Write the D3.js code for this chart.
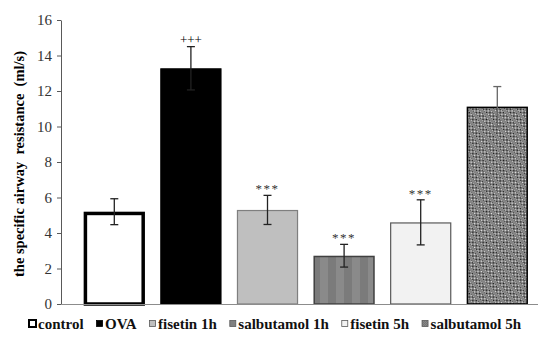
<!DOCTYPE html>
<html>
<head>
<meta charset="utf-8">
<script src="https://cdn.jsdelivr.net/npm/d3@7"></script>
<style>
  body { margin: 0; background: #fff; }
  svg { display: block; }
  svg text { font-family: "Liberation Serif", "Times New Roman", Times, Tinos, "DejaVu Serif", "Noto Serif", FreeSerif, serif !important; }
</style>
</head>
<body>
<div id="chart"></div>
<script>
const groups = ["control", "OVA", "fisetin 1h", "salbutamol 1h", "fisetin 5h", "salbutamol 5h"];
const means = [5.2, 13.28, 5.3, 2.72, 4.6, 11.12];
const errors = [0.73, 1.22, 0.82, 0.64, 1.27, 1.13];
const marks = ["", "+++", "***", "***", "***", ""];
const yTicks = [0, 2, 4, 6, 8, 10, 12, 14, 16];

const width = 538, height = 341;
const margin = { top: 20, left: 61, bottom: 37 };

const svg = d3.select("#chart").append("svg")
  .attr("width", width).attr("height", height);

const defs = svg.append("defs");

// vertical stripes for salbutamol 1h
const stripes = defs.append("pattern")
  .attr("id", "stripes").attr("patternUnits", "userSpaceOnUse")
  .attr("width", 16).attr("height", 10);
stripes.append("rect").attr("width", 16).attr("height", 10).attr("fill", "#8a8a8a");
stripes.append("rect").attr("x", 8).attr("width", 8).attr("height", 10).attr("fill", "#7b7b7b");

// black/white checker
const checker = defs.append("pattern")
  .attr("id", "checker").attr("patternUnits", "userSpaceOnUse")
  .attr("width", 2).attr("height", 2);
checker.append("rect").attr("width", 2).attr("height", 2).attr("fill", "#e8e8e8");
checker.append("rect").attr("width", 1).attr("height", 1).attr("fill", "#151515");
checker.append("rect").attr("x", 1).attr("y", 1).attr("width", 1).attr("height", 1).attr("fill", "#151515");

// diagonal grey bands over the checker for salbutamol 5h
const diag = defs.append("pattern")
  .attr("id", "diag").attr("patternUnits", "userSpaceOnUse")
  .attr("width", 8).attr("height", 8)
  .attr("patternTransform", "rotate(45)");
diag.append("rect").attr("width", 8).attr("height", 8).attr("fill", "url(#checker)");
diag.append("rect").attr("width", 8).attr("height", 3).attr("fill", "#858585");

const styles = [
  { fill: "#fff", stroke: "#000", sw: 3.5 },
  { fill: "#000", stroke: "#000", sw: 1 },
  { fill: "#bfbfbf", stroke: "#7f7f7f", sw: 1.2 },
  { fill: "url(#stripes)", stroke: "#404040", sw: 1.5 },
  { fill: "#f2f2f2", stroke: "#595959", sw: 1.2 },
  { fill: "url(#diag)", stroke: "#000", sw: 1.5 }
];

const x = d3.scaleBand()
  .domain(groups)
  .range([76, 76 + 6 * 76.6])
  .paddingInner(0.2)
  .paddingOuter(0.1);

const y = d3.scaleLinear()
  .domain([0, 16])
  .range([304, 20]);

// y axis
const yAxis = svg.append("g")
  .attr("transform", `translate(${margin.left},0)`)
  .call(d3.axisLeft(y).tickValues(yTicks).tickSize(4).tickSizeOuter(0).tickPadding(5));
yAxis.select(".domain").attr("stroke", "#595959");
yAxis.selectAll(".tick line").attr("stroke", "#595959");
yAxis.selectAll("text")
  .attr("font-size", 15)
  .attr("fill", "#333");

// bars
svg.append("g").selectAll("rect")
  .data(groups)
  .join("rect")
  .attr("x", (d, i) => x(d) + styles[i].sw / 2)
  .attr("y", (d, i) => y(means[i]) + styles[i].sw / 2)
  .attr("width", (d, i) => x.bandwidth() - styles[i].sw)
  .attr("height", (d, i) => y(0) - y(means[i]) - styles[i].sw / 2)
  .attr("fill", (d, i) => styles[i].fill)
  .attr("stroke", (d, i) => styles[i].stroke)
  .attr("stroke-width", (d, i) => styles[i].sw);

// x axis baseline
svg.append("line")
  .attr("x1", margin.left).attr("x2", width)
  .attr("y1", y(0) + 0.5).attr("y2", y(0) + 0.5)
  .attr("stroke", "#8c8c8c").attr("stroke-width", 1);

// error bars
const eb = svg.append("g").selectAll("g")
  .data(groups)
  .join("g")
  .attr("stroke", (d, i) => i === 5 ? "#666" : "#222")
  .attr("stroke-width", 1.3);
eb.append("line")
  .attr("x1", d => x(d) + x.bandwidth() / 2)
  .attr("x2", d => x(d) + x.bandwidth() / 2)
  .attr("y1", (d, i) => y(means[i] - errors[i]))
  .attr("y2", (d, i) => y(means[i] + errors[i]));
eb.append("line")
  .attr("x1", d => x(d) + x.bandwidth() / 2 - 4)
  .attr("x2", d => x(d) + x.bandwidth() / 2 + 4)
  .attr("y1", (d, i) => y(means[i] + errors[i]))
  .attr("y2", (d, i) => y(means[i] + errors[i]));
eb.append("line")
  .attr("x1", d => x(d) + x.bandwidth() / 2 - 4)
  .attr("x2", d => x(d) + x.bandwidth() / 2 + 4)
  .attr("y1", (d, i) => y(means[i] - errors[i]))
  .attr("y2", (d, i) => y(means[i] - errors[i]));

// significance marks
svg.append("g").selectAll("text")
  .data(groups)
  .join("text")
  .attr("x", d => x(d) + x.bandwidth() / 2)
  .attr("y", (d, i) => y(means[i] + errors[i]) - (marks[i] === "***" ? 2 : 3))
  .attr("text-anchor", "middle")
  .attr("font-size", 13)
  .attr("fill", (d, i) => marks[i] === "***" ? "#333" : "#000")
  .attr("letter-spacing", (d, i) => marks[i] === "***" ? 1.5 : 0)
  .text((d, i) => marks[i]);

// y label, sized to span roughly y 43..285 like the reference
const yLabel = svg.append("text")
  .attr("transform", "translate(24,164) rotate(-90)")
  .attr("text-anchor", "middle")
  .attr("font-size", 13)
  .attr("font-weight", "bold")
  .attr("fill", "#000")
  .style("white-space", "pre")
  .text("the specific airway  resistance  (ml/s)");
const labLen = yLabel.node().getComputedTextLength();
yLabel.attr("font-size", Math.min(14.5, 13 * 240 / labLen));

// legend, fitted between x 28 and 521
const legend = svg.append("g").attr("transform", "translate(28,329)");
const items = groups.map((g, i) => {
  const item = legend.append("g");
  const s = styles[i];
  const box = i === 0 ? 7 : 6;
  item.append("rect")
    .attr("x", i === 0 ? 1 : 0.5).attr("y", i === 0 ? -9 : -8.5)
    .attr("width", box).attr("height", box)
    .attr("fill", i === 3 ? "#808080" : (i === 5 ? "url(#checker)" : s.fill))
    .attr("stroke", i < 2 ? "#000" : "#595959")
    .attr("stroke-width", i === 0 ? 2 : 0.8);
  const t = item.append("text")
    .attr("x", box + 3)
    .attr("y", 0)
    .attr("font-size", 15)
    .attr("font-weight", "bold")
    .attr("fill", "#111")
    .text(g);
  return { item, t, box };
});
let total = d3.sum(items, d => d.box + 3 + d.t.node().getComputedTextLength());
if (total + 50 > 493) {
  const fs = 15 * (493 - 50) / total;
  items.forEach(d => d.t.attr("font-size", fs));
  total = d3.sum(items, d => d.box + 3 + d.t.node().getComputedTextLength());
}
const gap = (493 - total) / 5;
let lx = 0;
items.forEach(d => {
  d.item.attr("transform", `translate(${lx},0)`);
  lx += d.box + 3 + d.t.node().getComputedTextLength() + gap;
});
</script>
</body>
</html>
